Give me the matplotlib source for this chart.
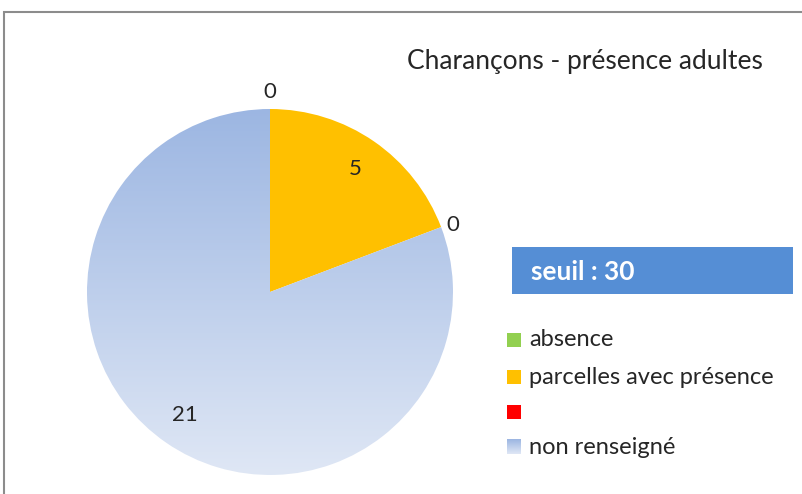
import numpy as np
import matplotlib
matplotlib.use("Agg")
import matplotlib.pyplot as plt
from matplotlib.patches import Rectangle
from matplotlib.colors import LinearSegmentedColormap

plt.rcParams['font.family'] = ['Lato', 'DejaVu Sans']

categories = ['absence', 'parcelles avec présence', '', 'non renseigné']
values = [0, 5, 0, 21]
colors = ['#92D050', '#FFC000', '#FF0000', '#B4C7E7']
title = 'Charançons - présence adultes'
seuil = 'seuil : 30'

W, H = 803, 494
fig = plt.figure(figsize=(W / 100, H / 100), dpi=100)
ax = fig.add_axes([0, 0, 1, 1])

cx, cy, R = 270, H - 292, 183
wedges, _ = ax.pie(values, colors=colors, startangle=90, counterclock=False,
                   center=(cx, cy), radius=R, frame=True,
                   wedgeprops=dict(linewidth=0))
ax.set_xlim(0, W)
ax.set_ylim(0, H)
ax.set_aspect('equal')
ax.axis('off')

# vertical gradient for "non renseigné"
grad = LinearSegmentedColormap.from_list('g', ['#DFE7F5', '#9CB6E2'])
blue = wedges[3]
blue.set_facecolor('none')
img = ax.imshow(np.linspace(0, 1, 256).reshape(-1, 1), cmap=grad, aspect='auto',
                extent=(cx - R, cx + R, cy - R, cy + R), origin='lower', zorder=1)
img.set_clip_path(blue)

# data labels (zeros sit outside the pie)
for w, v in zip(wedges, values):
    mid = np.deg2rad((w.theta1 + w.theta2) / 2)
    if v > 0:
        d, ha, va = 0.82 * R, 'center', 'center'
    elif np.sin(mid) > 0.8:
        d, ha, va = 1.04 * R, 'center', 'bottom'
    else:
        d, ha, va = 1.03 * R, 'left', 'center'
    ax.text(cx + d * np.cos(mid), cy + d * np.sin(mid), str(v),
            ha=ha, va=va, fontsize=16, color='#262626', zorder=5)

ax.text(585, H - 62, title, ha='center', va='center', fontsize=19, color='#262626')

ax.add_patch(Rectangle((512, H - 294), 281, 47, facecolor='#558ED5', edgecolor='none'))
ax.text(531, H - 272, seuil, ha='left', va='center', fontsize=19,
        fontweight='bold', color='white')

ys = [340, 377, 412, 447]
for y, lab, c in zip(ys, categories, colors):
    if c == colors[3]:
        ax.imshow(np.linspace(0, 1, 32).reshape(-1, 1), cmap=grad, aspect='auto',
                  extent=(507, 521, H - y - 7, H - y + 7), origin='lower', zorder=3)
    else:
        ax.add_patch(Rectangle((507, H - y - 7), 14, 14, facecolor=c, edgecolor='none'))
    ax.text(529, H - y, lab, ha='left', va='center', fontsize=17, color='#262626')

# chart frame
ax.plot([4.5, 4.5, W + 5], [-5, H - 12, H - 12], color='#8C8C8C', lw=1.5,
        clip_on=False, solid_joinstyle='miter')

fig.savefig('out.png', dpi=100)
